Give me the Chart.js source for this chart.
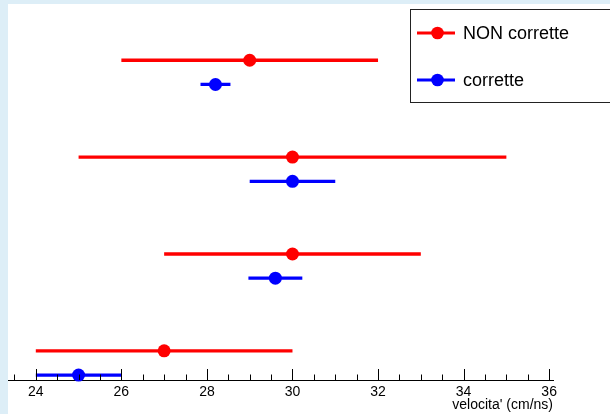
<!DOCTYPE html>
<html>
<head>
<meta charset="utf-8">
<script src="https://cdn.jsdelivr.net/npm/chart.js@4/dist/chart.umd.min.js"></script>
<style>
  html, body { margin: 0; padding: 0; background: #ddeef7; }
  #wrap { width: 610px; height: 414px; }
</style>
</head>
<body>
<div id="wrap"><canvas id="velocita" width="610" height="414"></canvas></div>
<script>
// livello verticale di ogni coppia di misure (dall'alto in basso)
const livelli = [4, 3, 2, 1];
// velocita' senza correzione e relative incertezze
const nonCorrette = [29, 30, 30, 27];
const nonCorretteErr = [3, 5, 3, 3];
// velocita' corrette e relative incertezze
const corrette = [28.2, 30, 29.6, 25];
const corretteErr = [0.35, 1, 0.63, 1];
// i punti corretti stanno un po' sotto quelli non corretti
const scartoCorrette = 0.25;
const etichetteX = [24, 26, 28, 30, 32, 34, 36];

const yNon = livelli;
const yCorr = livelli.map(l => l - scartoCorrette);

// segmenti orizzontali delle barre d'errore, separati da buchi
function barre(valori, errori, ys) {
    return valori.flatMap((v, i) => [
        { x: v - errori[i], y: ys[i] },
        { x: v + errori[i], y: ys[i] },
        { x: null, y: null }
    ]);
}
const punti = (valori, ys) => valori.map((v, i) => ({ x: v, y: ys[i] }));

const ROSSO = '#ff0000';
const BLU = '#0000ff';
const FONT = '"Liberation Sans", Arial, Helvetica, sans-serif';

// sfondo, tacche dell'asse e legenda disegnati a mano in stile ROOT
const stileRoot = {
    id: 'stileRoot',
    beforeDraw(chart) {
        const ctx = chart.ctx;
        ctx.save();
        ctx.fillStyle = '#ddeef7';
        ctx.fillRect(0, 0, chart.width, chart.height);
        ctx.fillStyle = '#ffffff';
        ctx.fillRect(8, 4, chart.width - 8, chart.height - 4);
        ctx.restore();
    },
    afterDraw(chart) {
        const ctx = chart.ctx;
        const x = chart.scales.x;
        const y0 = chart.chartArea.bottom;
        ctx.save();
        ctx.strokeStyle = '#000';
        ctx.lineWidth = 1;
        ctx.beginPath();
        for (let v = 23.5; v <= 36.01; v += 0.5) {
            const px = Math.round(x.getPixelForValue(v)) + 0.5;
            const major = Math.abs(v / 2 - Math.round(v / 2)) < 1e-6;
            ctx.moveTo(px, y0);
            ctx.lineTo(px, y0 - (major ? 11 : 5.5));
        }
        ctx.stroke();

        // legenda
        ctx.fillStyle = '#fff';
        ctx.fillRect(410.5, 9.5, 210, 93);
        ctx.strokeStyle = '#222';
        ctx.strokeRect(410.5, 9.5, 210, 93);
        const voci = [
            { testo: chart.data.datasets[0].label, colore: ROSSO, y: 33 },
            { testo: chart.data.datasets[1].label, colore: BLU, y: 80 }
        ];
        voci.forEach(v => {
            ctx.strokeStyle = v.colore;
            ctx.lineWidth = 3;
            ctx.beginPath();
            ctx.moveTo(417, v.y);
            ctx.lineTo(455, v.y);
            ctx.stroke();
            ctx.fillStyle = v.colore;
            ctx.beginPath();
            ctx.arc(437.5, v.y, 6.3, 0, Math.PI * 2);
            ctx.fill();
            ctx.fillStyle = '#000';
            ctx.font = '18px ' + FONT;
            ctx.textBaseline = 'middle';
            ctx.textAlign = 'left';
            ctx.fillText(v.testo, 463, v.y + 1);
        });
        ctx.restore();
    }
};

new Chart(document.getElementById('velocita'), {
    type: 'scatter',
    data: {
        datasets: [
            {
                label: 'NON corrette',
                data: punti(nonCorrette, yNon),
                backgroundColor: ROSSO,
                borderColor: ROSSO,
                pointRadius: 6.5,
                pointBorderWidth: 0,
                showLine: false,
                order: 0
            },
            {
                label: 'corrette',
                data: punti(corrette, yCorr),
                backgroundColor: BLU,
                borderColor: BLU,
                pointRadius: 6.5,
                pointBorderWidth: 0,
                showLine: false,
                order: 0
            },
            {
                label: 'errori NON corrette',
                data: barre(nonCorrette, nonCorretteErr, yNon),
                borderColor: ROSSO,
                borderWidth: 3.3,
                pointRadius: 0,
                showLine: true,
                spanGaps: false,
                order: 1
            },
            {
                label: 'errori corrette',
                data: barre(corrette, corretteErr, yCorr),
                borderColor: BLU,
                borderWidth: 3.3,
                pointRadius: 0,
                showLine: true,
                spanGaps: false,
                order: 1
            }
        ]
    },
    options: {
        responsive: false,
        animation: false,
        clip: false,
        layout: { padding: { left: 8, right: 57, top: 4, bottom: 0 } },
        plugins: {
            legend: { display: false },
            tooltip: { enabled: false }
        },
        scales: {
            x: {
                type: 'linear',
                position: 'bottom',
                min: 23.35,
                max: 36.09,
                afterFit: scale => { scale.height = 34; },
                afterBuildTicks: scale => {
                    scale.ticks = etichetteX.map(v => ({ value: v }));
                },
                grid: { display: false, drawTicks: false },
                border: { display: true, color: '#000', width: 1 },
                ticks: {
                    color: '#000',
                    padding: 4,
                    maxRotation: 0,
                    autoSkip: false,
                    font: { family: FONT, size: 14 }
                },
                title: {
                    display: true,
                    text: "velocita' (cm/ns)",
                    align: 'end',
                    color: '#000',
                    padding: { top: 0, bottom: 0 },
                    font: { family: FONT, size: 14 }
                }
            },
            y: {
                display: false,
                min: 0.699,
                max: 4.555
            }
        }
    },
    plugins: [stileRoot]
});
</script>
</body>
</html>
